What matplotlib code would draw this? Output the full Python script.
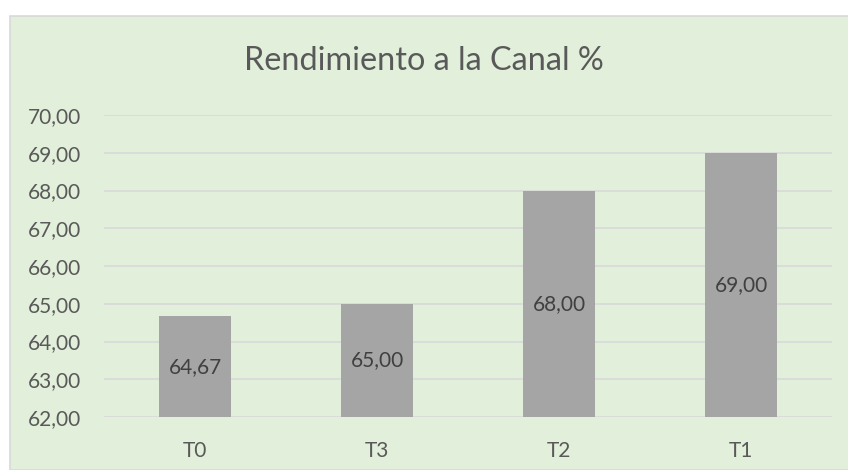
import matplotlib.pyplot as plt
from matplotlib.patches import Rectangle

# datos
categorias = ['T0', 'T3', 'T2', 'T1']
valores = [64.67, 65.00, 68.00, 69.00]
y_ticks = [62, 63, 64, 65, 66, 67, 68, 69, 70]

plt.rcParams['font.family'] = ['Lato', 'DejaVu Sans']

fig = plt.figure(figsize=(8.48, 4.70), dpi=100)
fig.patch.set_facecolor('white')

# fondo verde del grafico
fondo = Rectangle((10 / 848, 0), 1, 1 - 16 / 470, transform=fig.transFigure,
                  facecolor='#E2EFDA', edgecolor='#D9D9D9', linewidth=1.2, zorder=-1)
fig.patches.append(fondo)

ax = fig.add_axes([104 / 848, (470 - 417) / 470, 728 / 848, (417 - 115) / 470])
ax.set_facecolor('none')

x = range(len(categorias))
bars = ax.bar(x, [v - 62 for v in valores], bottom=62, width=0.4, color='#A5A5A5', zorder=3)

for i, v in enumerate(valores):
    ax.text(i, (62 + v) / 2, f'{v:.2f}'.replace('.', ','), ha='center', va='center',
            fontsize=15, color='#404040', zorder=4)

ax.set_xlim(-0.5, 3.5)
ax.set_ylim(62, 70)
ax.set_yticks(y_ticks)
ax.set_yticklabels([f'{t:.2f}'.replace('.', ',') for t in y_ticks])
ax.set_xticks(list(x))
ax.set_xticklabels(categorias)
ax.tick_params(axis='both', length=0, labelsize=15, labelcolor='#595959')
ax.tick_params(axis='y', pad=16.5)
ax.tick_params(axis='x', pad=17)
ax.grid(axis='y', color='#D9D9D9', linewidth=1.2, zorder=0)
for s in ax.spines.values():
    s.set_visible(False)

fig.text(0.5, (470 - 61) / 470, 'Rendimiento a la Canal %', ha='center', va='center',
         fontsize=23.3, color='#595959')

plt.savefig('out.png', dpi=100)
